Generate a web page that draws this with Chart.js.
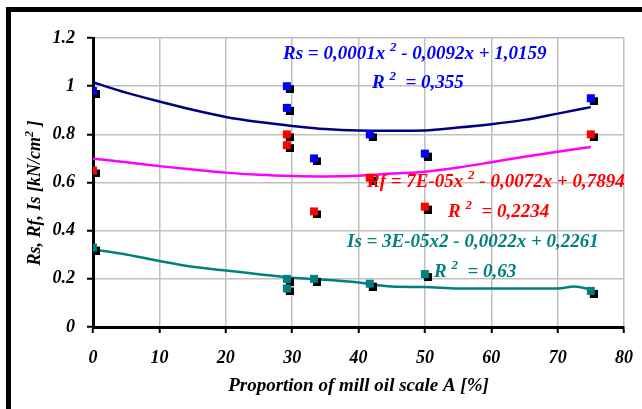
<!DOCTYPE html>
<html>
<head>
<meta charset="utf-8">
<script src="https://cdn.jsdelivr.net/npm/chart.js@4"></script>
<style>
  html, body { margin: 0; padding: 0; background: #fff; }
  #wrap { width: 642px; height: 409px; position: relative; }
</style>
</head>
<body>
<div id="wrap"><canvas id="c" width="642" height="409"></canvas></div>
<script>
// Measured samples: proportion of mill oil scale A [%]
const pointX   = [0, 29.2, 29.2, 33.3, 41.7, 50, 75];
const rsValues = [0.98, 1.00, 0.91, 0.70, 0.80, 0.72, 0.95];
const rfValues = [0.65, 0.80, 0.755, 0.48, 0.62, 0.50, 0.80];
const isValues = [0.33, 0.20, 0.16, 0.20, 0.18, 0.22, 0.15];

// Polynomial trend curves (values along the fitted lines)
const trendX   = [0, 5, 10, 15, 20, 25, 30, 35, 40, 45, 50, 55, 60, 65, 70, 75];
const rsTrend  = [1.016, 0.973, 0.936, 0.902, 0.872, 0.851, 0.835, 0.822, 0.816, 0.815, 0.816, 0.828, 0.842, 0.860, 0.886, 0.913];
const rfTrend  = [0.699, 0.684, 0.668, 0.654, 0.641, 0.632, 0.627, 0.625, 0.628, 0.637, 0.645, 0.662, 0.684, 0.707, 0.728, 0.747];
const isTrendX = [0, 5, 10, 15, 20, 25, 30, 35, 40, 45, 50, 55, 60, 65, 70, 72.5, 75];
const isTrend  = [0.322, 0.301, 0.274, 0.250, 0.235, 0.219, 0.204, 0.196, 0.185, 0.168, 0.166, 0.160, 0.160, 0.160, 0.160, 0.168, 0.156];

const xTickLabels = ['0', '10', '20', '30', '40', '50', '60', '70', '80'];
const yTickLabels = ['0', '0.2', '0.4', '0.6', '0.8', '1', '1.2'];

const xTitle = 'Proportion of mill oil scale A [%]';
const yTitleParts = [['Rs, Rf, Is [kN/cm', false], ['2', true], [' ]', false]];

// Trend equations as [text, superscript] runs
const notes = [
  { color: '#0000ff', x: 283, y: 59,  parts: [['Rs = 0,0001x ', false], ['2', true], [' - 0,0092x + 1,0159', false]] },
  { color: '#0000ff', x: 372, y: 88,  parts: [['R ', false], ['2', true], ['  = 0,355', false]] },
  { color: '#ff0000', x: 367, y: 187, parts: [['Rf = 7E-05x ', false], ['2', true], [' - 0,0072x + 0,7894', false]] },
  { color: '#ff0000', x: 448, y: 217, parts: [['R ', false], ['2', true], ['  = 0,2234', false]] },
  { color: '#008080', x: 347, y: 247, parts: [['Is = 3E-05x2 - 0,0022x + 0,2261', false]] },
  { color: '#008080', x: 434, y: 277, parts: [['R ', false], ['2', true], ['  = 0,63', false]] }
];

const FONT = '"Liberation Serif", "Times New Roman", serif';

function toXY(xs, ys) { return xs.map((x, i) => ({ x: x, y: ys[i] })); }

// Square marker with a dark drop shadow
function marker(color) {
  const c = document.createElement('canvas');
  c.width = 14; c.height = 14;
  const g = c.getContext('2d');
  g.fillStyle = '#000';
  g.fillRect(6, 6, 8, 8);
  g.fillStyle = color;
  g.fillRect(3, 3, 8, 8);
  return c;
}

function drawRich(ctx, parts, x, y, size, color, align) {
  const base = 'italic bold ' + size + 'px ' + FONT;
  const sup = 'italic bold ' + Math.round(size * 0.68) + 'px ' + FONT;
  let w = 0;
  parts.forEach(p => { ctx.font = p[1] ? sup : base; w += ctx.measureText(p[0]).width; });
  let cx = align === 'center' ? x - w / 2 : x;
  ctx.fillStyle = color;
  ctx.textAlign = 'left';
  ctx.textBaseline = 'alphabetic';
  parts.forEach(p => {
    ctx.font = p[1] ? sup : base;
    ctx.fillText(p[0], cx, p[1] ? y - size * 0.4 : y);
    cx += ctx.measureText(p[0]).width;
  });
}

const decor = {
  id: 'decor',
  beforeDraw(chart) {
    const ctx = chart.ctx;
    ctx.save();
    ctx.fillStyle = '#fff';
    ctx.fillRect(0, 0, chart.width, chart.height);
    ctx.fillStyle = '#000';
    ctx.fillRect(6, 7, chart.width - 6, 5);
    ctx.fillRect(6, 7, 5, chart.height - 7);
    ctx.restore();
  },
  afterDraw(chart) {
    const ctx = chart.ctx;
    const a = chart.chartArea;
    ctx.save();
    notes.forEach(n => drawRich(ctx, n.parts, n.x, n.y, 19, n.color, 'left'));
    drawRich(ctx, [[xTitle, false]], (a.left + a.right) / 2, 391, 19, '#000', 'center');
    ctx.translate(40, 193);
    ctx.rotate(-Math.PI / 2);
    drawRich(ctx, yTitleParts, 0, 0, 18, '#000', 'center');
    ctx.restore();
  }
};

const tickFont = { family: FONT, size: 18, style: 'italic', weight: 'bold' };

new Chart(document.getElementById('c'), {
  type: 'scatter',
  data: {
    datasets: [
      { label: 'Is', data: toXY(pointX, isValues), pointStyle: marker('#008080'), pointRadius: 5, showLine: false },
      { label: 'Rf', data: toXY(pointX, rfValues), pointStyle: marker('#ff0000'), pointRadius: 5, showLine: false },
      { label: 'Rs', data: toXY(pointX, rsValues), pointStyle: marker('#0000ff'), pointRadius: 5, showLine: false },
      { label: 'Is trend', data: toXY(isTrendX, isTrend), showLine: true, borderColor: '#008080', borderWidth: 2.5, pointRadius: 0, cubicInterpolationMode: 'monotone' },
      { label: 'Rf trend', data: toXY(trendX, rfTrend), showLine: true, borderColor: '#ff00ff', borderWidth: 2.5, pointRadius: 0, cubicInterpolationMode: 'monotone' },
      { label: 'Rs trend', data: toXY(trendX, rsTrend), showLine: true, borderColor: '#000080', borderWidth: 2.5, pointRadius: 0, cubicInterpolationMode: 'monotone' }
    ]
  },
  options: {
    responsive: false,
    animation: false,
    events: [],
    layout: { padding: { left: 0, right: 18, top: 38, bottom: 0 } },
    plugins: { legend: { display: false }, tooltip: { enabled: false } },
    scales: {
      x: {
        type: 'linear', min: 0, max: 80,
        ticks: { stepSize: 10, maxRotation: 0, color: '#000', font: tickFont, padding: 15,
                 callback: (v, i) => xTickLabels[i] },
        grid: { color: '#c0c0c0', lineWidth: 1.5, tickColor: '#000', tickLength: 6, tickWidth: 2 },
        border: { color: '#000', width: 3 },
        afterFit: s => { s.height = 82; s.paddingLeft = 0; s.paddingRight = 0; }
      },
      y: {
        type: 'linear', min: 0, max: 1.2,
        ticks: { stepSize: 0.2, color: '#000', font: tickFont, padding: 12,
                 callback: (v, i) => yTickLabels[i] },
        grid: { color: '#c0c0c0', lineWidth: 1.5, tickColor: '#000', tickLength: 6, tickWidth: 2 },
        border: { color: '#000', width: 3 },
        afterFit: s => { s.width = 93; s.paddingTop = 0; s.paddingBottom = 0; }
      }
    }
  },
  plugins: [decor]
});
</script>
</body>
</html>
